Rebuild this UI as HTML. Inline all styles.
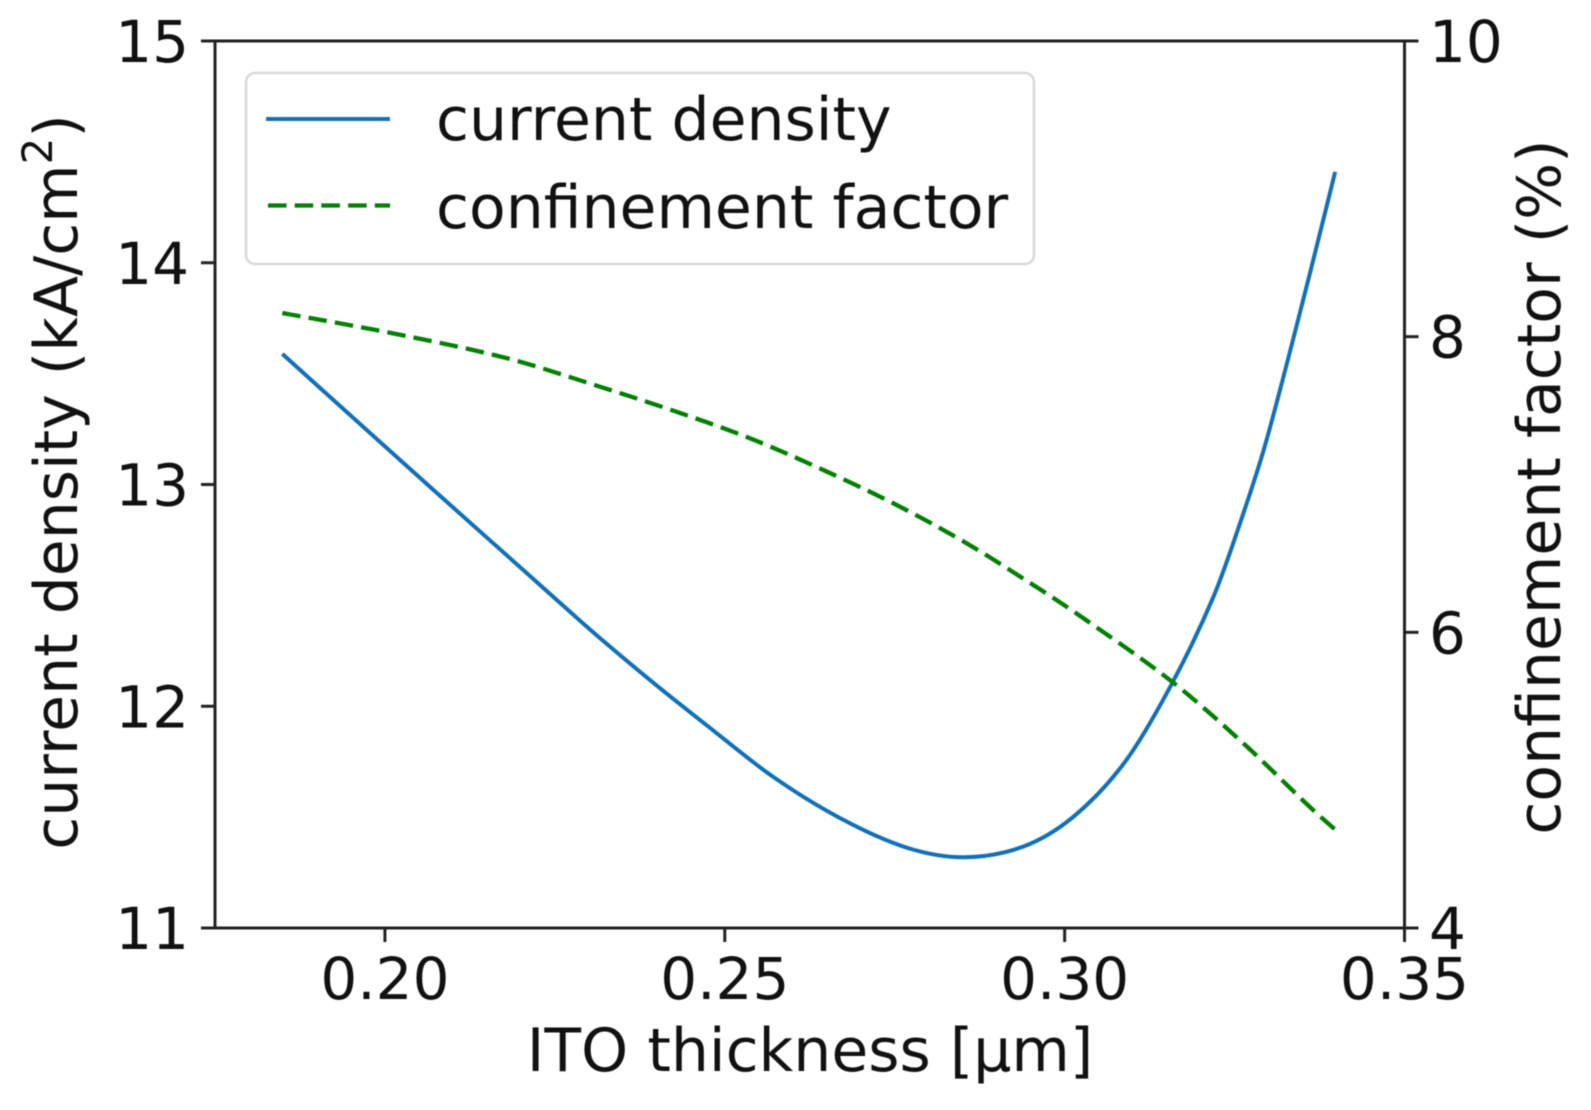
<!DOCTYPE html>
<html lang="en">
<head>
<meta charset="utf-8">
<title>Current density and confinement factor vs ITO thickness</title>
<style>
  html, body { margin: 0; padding: 0; background: #fff; width: 1591px; height: 1110px; overflow: hidden; }
  svg { display: block; }
  text { font-family: "DejaVu Sans", "Liberation Sans", sans-serif; fill: #111; }
</style>
</head>
<body>
<svg id="chart" xmlns="http://www.w3.org/2000/svg" width="1591" height="1110" viewBox="0 0 1591 1110">
  <g id="root" style="filter: blur(0.6px)"></g>
</svg>
<script>
const currentX = [0.1849, 0.2009, 0.2291, 0.2390, 0.2473, 0.2571, 0.2670, 0.2768, 0.2853, 0.2939, 0.3013, 0.3089, 0.3158, 0.3219, 0.3258, 0.3297, 0.3361, 0.3398];
const currentY = [13.589, 13.147, 12.375, 12.118, 11.915, 11.682, 11.495, 11.362, 11.319, 11.367, 11.502, 11.75, 12.103, 12.494, 12.825, 13.20, 13.954, 14.41];
const confinementX = [0.1849, 0.2009, 0.2178, 0.2316, 0.2429, 0.2537, 0.2645, 0.2753, 0.2856, 0.2954, 0.3023, 0.3158, 0.3263, 0.3365, 0.3397];
const confinementY = [8.16, 8.025, 7.856, 7.662, 7.492, 7.313, 7.098, 6.861, 6.602, 6.32, 6.11, 5.666, 5.249, 4.80, 4.67];
const xTicks = [0.20, 0.25, 0.30, 0.35];
const xTickLabels = ["0.20", "0.25", "0.30", "0.35"];
const leftTicks = [11, 12, 13, 14, 15];
const leftTickLabels = ["11", "12", "13", "14", "15"];
const rightTicks = [4, 6, 8, 10];
const rightTickLabels = ["4", "6", "8", "10"];

const plotL = 215, plotR = 1404.5, plotT = 41, plotB = 928;
const tickFont = 58;
const labelFont = 60;
const xScale = v => plotL + (v - 0.175) / (0.35 - 0.175) * (plotR - plotL);
const yLeft = v => plotB - (v - 11) / (15 - 11) * (plotB - plotT);
const yRight = v => plotB - (v - 4) / (10 - 4) * (plotB - plotT);

const NS = "http://www.w3.org/2000/svg";
const root = document.getElementById("root");

function make(tag, attrs, parent) {
  const el = document.createElementNS(NS, tag);
  for (const k in attrs) el.setAttribute(k, attrs[k]);
  (parent || root).appendChild(el);
  return el;
}

function smoothPath(xs, ys, fx, fy) {
  const p = xs.map((x, i) => [fx(x), fy(ys[i])]);
  let d = "M" + p[0][0].toFixed(2) + " " + p[0][1].toFixed(2);
  for (let i = 0; i < p.length - 1; i++) {
    const p0 = p[Math.max(i - 1, 0)], p1 = p[i], p2 = p[i + 1], p3 = p[Math.min(i + 2, p.length - 1)];
    const h = p2[0] - p1[0];
    const m1 = (p2[1] - p0[1]) / (p2[0] - p0[0]);
    const m2 = (p3[1] - p1[1]) / (p3[0] - p1[0]);
    const c1x = p1[0] + h / 3, c1y = p1[1] + m1 * h / 3;
    const c2x = p2[0] - h / 3, c2y = p2[1] - m2 * h / 3;
    d += " C" + [c1x, c1y, c2x, c2y, p2[0], p2[1]].map(n => n.toFixed(2)).join(" ");
  }
  return d;
}

/* series */
const currentLine = make("path", { d: smoothPath(currentX, currentY, xScale, yLeft), fill: "none", stroke: "#1170b8", "stroke-width": 4 });



const confinementLine = make("path", { d: smoothPath(confinementX, confinementY, xScale, yRight), fill: "none", stroke: "#008000", "stroke-width": 4.3, "stroke-dasharray": "18.5 8.2" });



/* frame */
const frame = make("rect", { x: plotL, y: plotT, width: plotR - plotL, height: plotB - plotT, fill: "none", stroke: "#222", "stroke-width": 3 });



/* x ticks */
xTicks.forEach((v, i) => {
  const t = make("line", { x1: xScale(v), x2: xScale(v), y1: plotB, y2: plotB + 14, stroke: "#222", "stroke-width": 3 });
  
  
  const l = make("text", { x: xScale(v), y: 999, "text-anchor": "middle", "font-size": tickFont });
  l.textContent = xTickLabels[i];
  
  
});

/* left ticks */
leftTicks.forEach((v, i) => {
  const t = make("line", { x1: plotL - 14, x2: plotL, y1: yLeft(v), y2: yLeft(v), stroke: "#222", "stroke-width": 3 });
  
  
  const l = make("text", { x: 189, y: yLeft(v) + 21, "text-anchor": "end", "font-size": tickFont });
  l.textContent = leftTickLabels[i];
  
  
});

/* right ticks */
rightTicks.forEach((v, i) => {
  const t = make("line", { x1: plotR, x2: plotR + 14, y1: yRight(v), y2: yRight(v), stroke: "#222", "stroke-width": 3 });
  
  
  const l = make("text", { x: 1429, y: yRight(v) + 21, "text-anchor": "start", "font-size": tickFont });
  l.textContent = rightTickLabels[i];
  
  
});

/* axis titles */
const xTitle = make("text", { x: 810, y: 1071, "text-anchor": "middle", "font-size": labelFont });
xTitle.textContent = "ITO thickness [µm]";



const yTitle = make("text", { transform: "translate(77 482) rotate(-90)", "text-anchor": "middle", "font-size": labelFont });


const yTitleMain = make("tspan", {}, yTitle);
yTitleMain.textContent = "current density (kA/cm";
const yTitleSup = make("tspan", { dy: -25, "font-size": 42 }, yTitle);
yTitleSup.textContent = "2";
const yTitleEnd = make("tspan", { dy: 25 }, yTitle);
yTitleEnd.textContent = ")";

const y2Title = make("text", { transform: "translate(1560 487) rotate(-90)", "text-anchor": "middle", "font-size": labelFont });
y2Title.textContent = "confinement factor (%)";



/* legend */
const legendBox = make("rect", { x: 246, y: 73, width: 788, height: 191, rx: 9, ry: 9, fill: "#fff", "fill-opacity": 0.9, stroke: "#d8d8d8", "stroke-width": 2.5 });



const legendSwatch1 = make("line", { x1: 266, x2: 390, y1: 119, y2: 119, stroke: "#1170b8", "stroke-width": 4 });


const legendText1 = make("text", { x: 436, y: 140, "font-size": labelFont });
legendText1.textContent = "current density";



const legendSwatch2 = make("line", { x1: 268, x2: 390, y1: 205.5, y2: 205.5, stroke: "#008000", "stroke-width": 4.3, "stroke-dasharray": "18.5 8.2" });


const legendText2 = make("text", { x: 436, y: 228, "font-size": labelFont });
legendText2.textContent = "confinement factor";


</script>
</body>
</html>
